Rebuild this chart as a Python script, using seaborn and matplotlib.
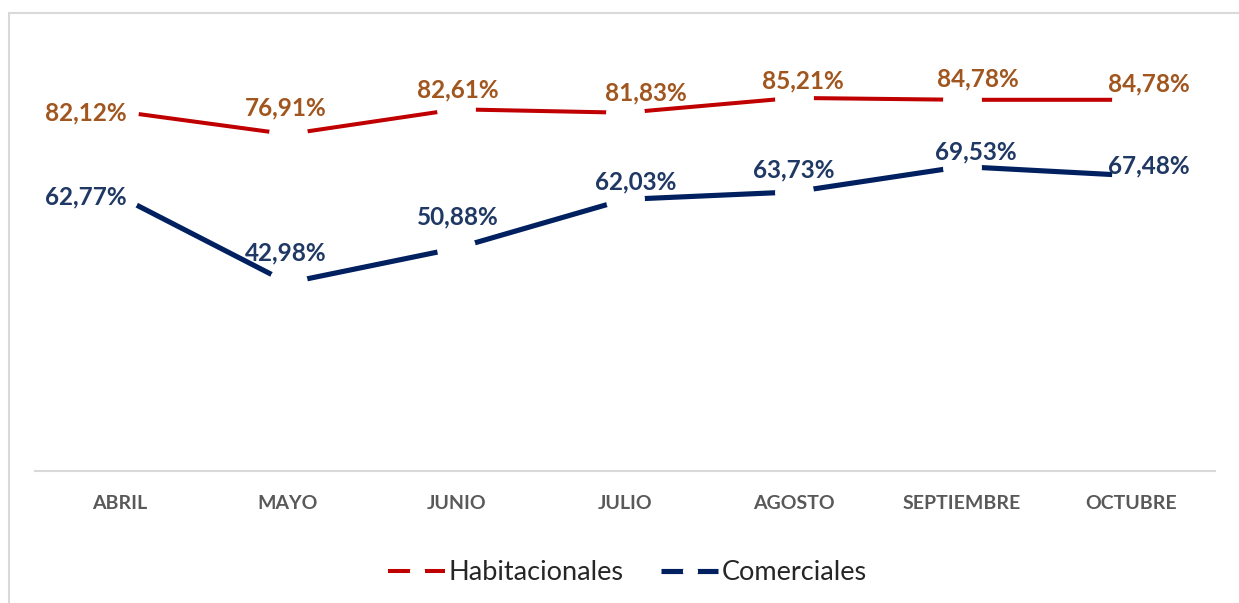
import pandas as pd
import seaborn as sns
import matplotlib.pyplot as plt
from matplotlib.lines import Line2D

# data
meses = ["ABRIL", "MAYO", "JUNIO", "JULIO", "AGOSTO", "SEPTIEMBRE", "OCTUBRE"]
habitacionales = [82.12, 76.91, 82.61, 81.83, 85.21, 84.78, 84.78]
comerciales = [62.77, 42.98, 50.88, 62.03, 63.73, 69.53, 67.48]

# label offsets in pixels (dx, dy) relative to each point
off_hab = [(-33, -1), (-2, 26), (1, 19), (21, 20), (9, 17), (16, 21), (18, 16)]
off_com = [(-33, -1), (-2, 30), (1, 31), (11, 17), (0, 22), (14, 15), (18, 10)]

sns.set_theme(style="white")
plt.rcParams["font.family"] = ["Lato", "DejaVu Sans"]

fig = plt.figure(figsize=(12.39, 6.03), dpi=100)
ax = fig.add_axes([0.0282, 0.219, 0.9524, 0.726])

series = [
    ("Habitacionales", habitacionales, "#C00000", 2.9, "#A0561E", off_hab),
    ("Comerciales", comerciales, "#002060", 3.7, "#1F3864", off_com),
]

for name, vals, color, lw, txtcolor, offs in series:
    df = pd.DataFrame({"mes": meses, "valor": vals})
    sns.lineplot(data=df, x="mes", y="valor", ax=ax, color=color, linewidth=lw,
                 marker="o", markersize=28, markerfacecolor="white",
                 markeredgecolor="white", markeredgewidth=0, label=name,
                 solid_capstyle="butt")
    for i, v in enumerate(vals):
        ax.annotate(f"{v:.2f}".replace(".", ",") + "%", (i, v),
                    xytext=offs[i], textcoords="offset pixels",
                    ha="center", va="center", fontsize=17.5,
                    fontweight="bold", color=txtcolor)

ax.set_xlim(-0.5, 6.5)
ax.set_ylim(0, 100)
ax.set_xlabel("")
ax.set_ylabel("")
ax.set_yticks([])
for s in ["top", "left", "right"]:
    ax.spines[s].set_visible(False)
ax.spines["bottom"].set_color("#D9D9D9")
ax.spines["bottom"].set_linewidth(1.5)
ax.tick_params(axis="x", length=0, pad=17, labelsize=14, labelcolor="#595959")
for t in ax.get_xticklabels():
    t.set_fontweight("bold")

ax.get_legend().remove()
handles, labels = ax.get_legend_handles_labels()
fig.legend(handles, labels, loc="center", bbox_to_anchor=(0.5065, 0.05),
           ncol=2, frameon=False, fontsize=19.5, markerscale=0.39,
           handlelength=2.1, handletextpad=0.12, columnspacing=1.4)

# light border of the chart area
fig.add_artist(Line2D([0.0073, 0.0073], [0, 0.978], transform=fig.transFigure,
                      color="#D9D9D9", linewidth=1.5))
fig.add_artist(Line2D([0.0073, 1], [0.978, 0.978], transform=fig.transFigure,
                      color="#D9D9D9", linewidth=1.5))

fig.savefig("out.png", dpi=100)
